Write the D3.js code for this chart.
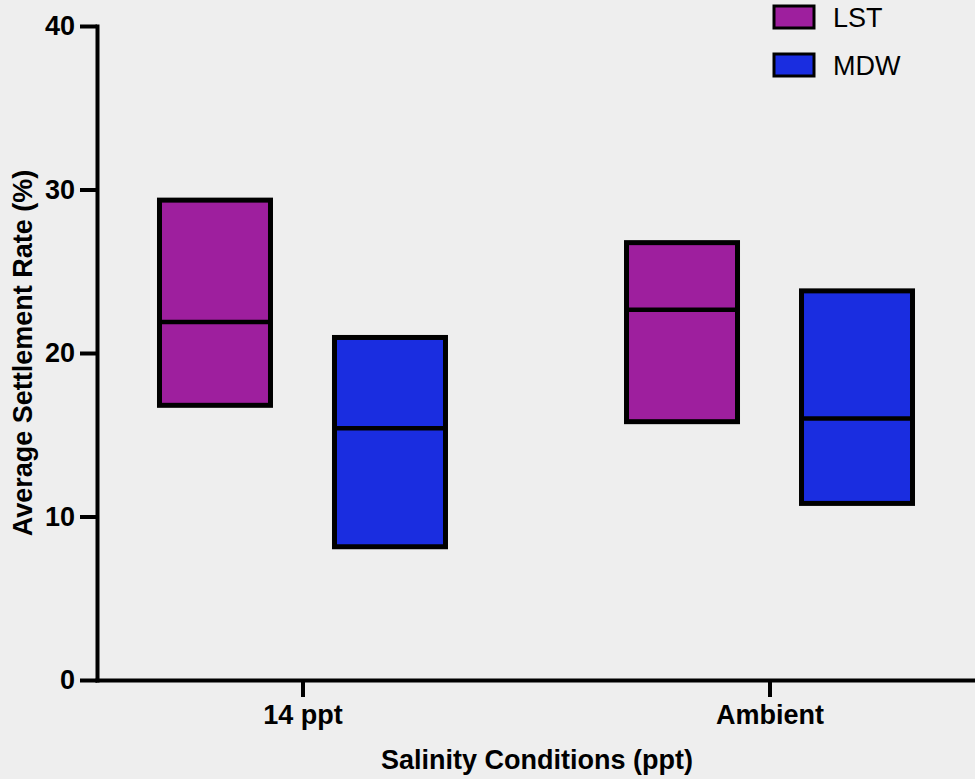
<!DOCTYPE html>
<html>
<head>
<meta charset="utf-8">
<script src="https://cdn.jsdelivr.net/npm/d3@7"></script>
<style>
  html, body { margin: 0; padding: 0; background: #eeeeee; }
  svg { display: block; font-family: "Liberation Sans", Arial, Helvetica, sans-serif; }
  .axis text { font-size: 27px; font-weight: bold; fill: #000; }
  .axis path, .axis line { stroke: #000; stroke-width: 4; }
  .axis-label { font-size: 27px; font-weight: bold; }
  .legend-text { font-size: 27px; }
</style>
</head>
<body>
<div id="chart"></div>
<script>
// Data
const groups = ["14 ppt", "Ambient"];
const series = ["LST", "MDW"];
const colors = ["#9e1f9e", "#1a2de0"];
const yTicks = [0, 10, 20, 30, 40];

// floating bars: min, max, median line
const lstMin = [16.8, 15.8];
const lstMax = [29.35, 26.75];
const lstMid = [21.9, 22.65];
const mdwMin = [8.15, 10.8];
const mdwMax = [20.95, 23.8];
const mdwMid = [15.4, 16.0];

const data = [];
groups.forEach((g, i) => {
    data.push({ group: g, series: "LST", min: lstMin[i], max: lstMax[i], mid: lstMid[i] });
    data.push({ group: g, series: "MDW", min: mdwMin[i], max: mdwMax[i], mid: mdwMid[i] });
});

const W = 975, H = 779;
const svg = d3.select("#chart").append("svg")
    .attr("width", W)
    .attr("height", H);

svg.append("rect").attr("width", W).attr("height", H).attr("fill", "#eeeeee");

// Scales
const x = d3.scalePoint().domain(groups).range([97, 975]).padding(0.44);
const xSub = d3.scaleBand().domain(series).range([-175, 175]);
const y = d3.scaleLinear().domain([0, 40]).range([680, 26]);
const color = d3.scaleOrdinal().domain(series).range(colors);
const barW = 111;

// Bars
const bars = svg.append("g");
bars.selectAll("rect")
    .data(data)
    .enter()
    .append("rect")
    .attr("x", d => x(d.group) + xSub(d.series) + xSub.bandwidth() / 2 - barW / 2)
    .attr("y", d => y(d.max))
    .attr("width", barW)
    .attr("height", d => y(d.min) - y(d.max))
    .attr("fill", d => color(d.series))
    .attr("stroke", "#000")
    .attr("stroke-width", 5);

bars.selectAll("line")
    .data(data)
    .enter()
    .append("line")
    .attr("x1", d => x(d.group) + xSub(d.series) + xSub.bandwidth() / 2 - barW / 2)
    .attr("x2", d => x(d.group) + xSub(d.series) + xSub.bandwidth() / 2 + barW / 2)
    .attr("y1", d => y(d.mid))
    .attr("y2", d => y(d.mid))
    .attr("stroke", "#000")
    .attr("stroke-width", 4.5);

// Axes
const yAxis = d3.axisLeft(y).tickValues(yTicks).tickSize(17).tickSizeOuter(0).tickPadding(5);
const gy = svg.append("g")
    .attr("class", "axis")
    .attr("transform", "translate(97,0)")
    .call(yAxis);
gy.select(".domain").attr("stroke-linecap", "square");

const xAxis = d3.axisBottom(x).tickSize(17).tickSizeOuter(0).tickPadding(8);
const gx = svg.append("g")
    .attr("class", "axis")
    .attr("transform", "translate(0,680)")
    .call(xAxis);
gx.select(".domain").attr("stroke-linecap", "square");

// Axis labels
svg.append("text")
    .attr("class", "axis-label")
    .attr("transform", `translate(32, ${(y(0) + y(40)) / 2}) rotate(-90)`)
    .attr("text-anchor", "middle")
    .text("Average Settlement Rate (%)");

svg.append("text")
    .attr("class", "axis-label")
    .attr("x", 537)
    .attr("y", 769)
    .attr("text-anchor", "middle")
    .text("Salinity Conditions (ppt)");

// Legend
const legend = svg.append("g").attr("transform", "translate(774,6)");
const items = legend.selectAll("g")
    .data(series)
    .enter()
    .append("g")
    .attr("transform", (d, i) => `translate(0, ${i * 48})`);

items.append("rect")
    .attr("width", 40)
    .attr("height", 22)
    .attr("fill", d => color(d))
    .attr("stroke", "#000")
    .attr("stroke-width", 3);

items.append("text")
    .attr("class", "legend-text")
    .attr("x", 59)
    .attr("y", 21)
    .text(d => d);
</script>
</body>
</html>
